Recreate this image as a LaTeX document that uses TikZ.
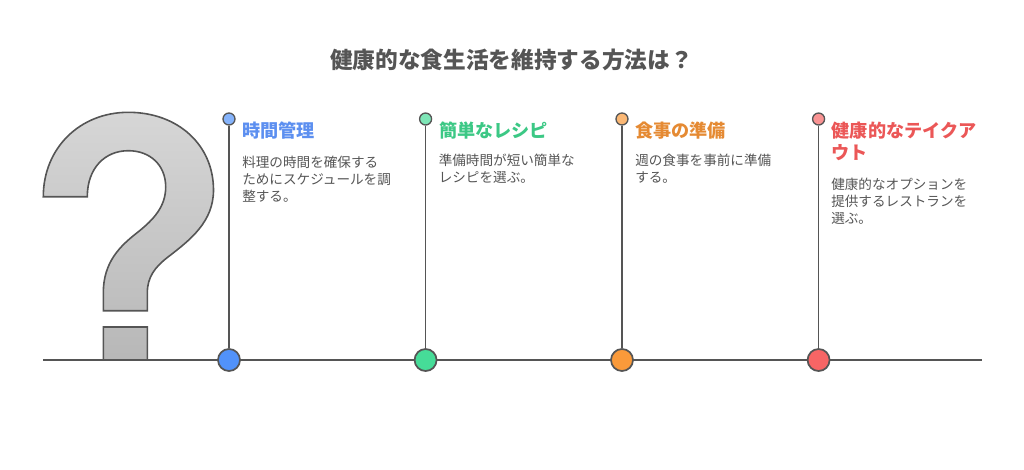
\documentclass[tikz,border=0pt]{standalone}
\usepackage{fontspec}
\setmainfont{Noto Sans CJK JP}
\usetikzlibrary{positioning}
\definecolor{inkgray}{HTML}{555555}
\definecolor{c1}{HTML}{5192FA}
\definecolor{c2}{HTML}{46DC98}
\definecolor{c3}{HTML}{FA9A3A}
\definecolor{c4}{HTML}{F76565}
\definecolor{t1}{HTML}{5C8FF0}
\definecolor{t2}{HTML}{3CC885}
\definecolor{t3}{HTML}{E58A33}
\definecolor{t4}{HTML}{EB5757}
\tikzset{
	bigdot/.style={circle,draw=inkgray,line width=1.3pt,minimum size=16.5pt,inner sep=0pt},
	smalldot/.style={circle,draw=inkgray,line width=1pt,minimum size=9pt,inner sep=0pt},
	stem/.style={draw=inkgray,line width=1.3pt},
	headtext/.style={anchor=north west,inner sep=0pt,align=left,font=\fontsize{13.6pt}{16.5pt}\selectfont\bfseries},
	bodytext/.style={anchor=north west,inner sep=0pt,align=left,text=inkgray,font=\fontsize{10.2pt}{12.75pt}\selectfont}
}
\begin{document}
\begin{tikzpicture}[x=0.75pt,y=-0.75pt]
	\useasboundingbox (0,0) rectangle (1024,469);
	\node[text=inkgray,font=\fontsize{17pt}{20pt}\selectfont\bfseries] (title) at (511.5,60) {健康的な食生活を維持する方法は？};
	% question mark
	\path[top color=black!16,bottom color=black!28,draw=inkgray,line width=1.2pt,line join=miter]
		(43.3,196.7) .. controls (43.3,148) and (80,112.3) .. (128.3,112.3)
		.. controls (178,112.3) and (213.5,145) .. (213.5,190)
		.. controls (213.5,222) and (190,240) .. (168,257)
		.. controls (155,267) and (147.3,277) .. (147.3,293)
		-- (147.3,310.7) -- (103.3,310.7) -- (103.3,293)
		.. controls (103.3,262) and (120,246) .. (138,232)
		.. controls (153,220) and (165.7,207) .. (165.7,187)
		.. controls (165.7,165) and (150,150.7) .. (128.3,150.7)
		.. controls (105,150.7) and (87.3,168) .. (87.3,196.7)
		-- cycle
		(103.3,360) -- (103.3,327) -- (147.3,327) -- (147.3,360);
	% base line
	\coordinate (lineL) at (43,360);
	\coordinate (lineR) at (982,360);
	\draw[stem] (lineL) -- (lineR);
	% markers
	\foreach \i/\xpos in {1/229,2/425.6,3/622,4/818.6}{
		\node[smalldot,fill=c\i!70!white] (top\i) at (\xpos,119) {};
		\node[bigdot,fill=c\i] (base\i) at (\xpos,360) {};
		\draw[stem] (top\i) -- (base\i);
	}
	% texts
	\node[headtext,text=t1] (head1) at (242,122) {時間管理};
	\node[bodytext] (body1) at (242,156) {料理の時間を確保する\\ためにスケジュールを調\\整する。};
	\node[headtext,text=t2] (head2) at (439,122) {簡単なレシピ};
	\node[bodytext] (body2) at (438.5,153.5) {準備時間が短い簡単な\\レシピを選ぶ。};
	\node[headtext,text=t3] (head3) at (635,122) {食事の準備};
	\node[bodytext] (body3) at (635,153.5) {週の食事を事前に準備\\する。};
	\node[headtext,text=t4] (head4) at (831.5,122) {健康的なテイクア\\ウト};
	\node[bodytext] (body4) at (831,178) {健康的なオプションを\\提供するレストランを\\選ぶ。};
\end{tikzpicture}
\end{document}
